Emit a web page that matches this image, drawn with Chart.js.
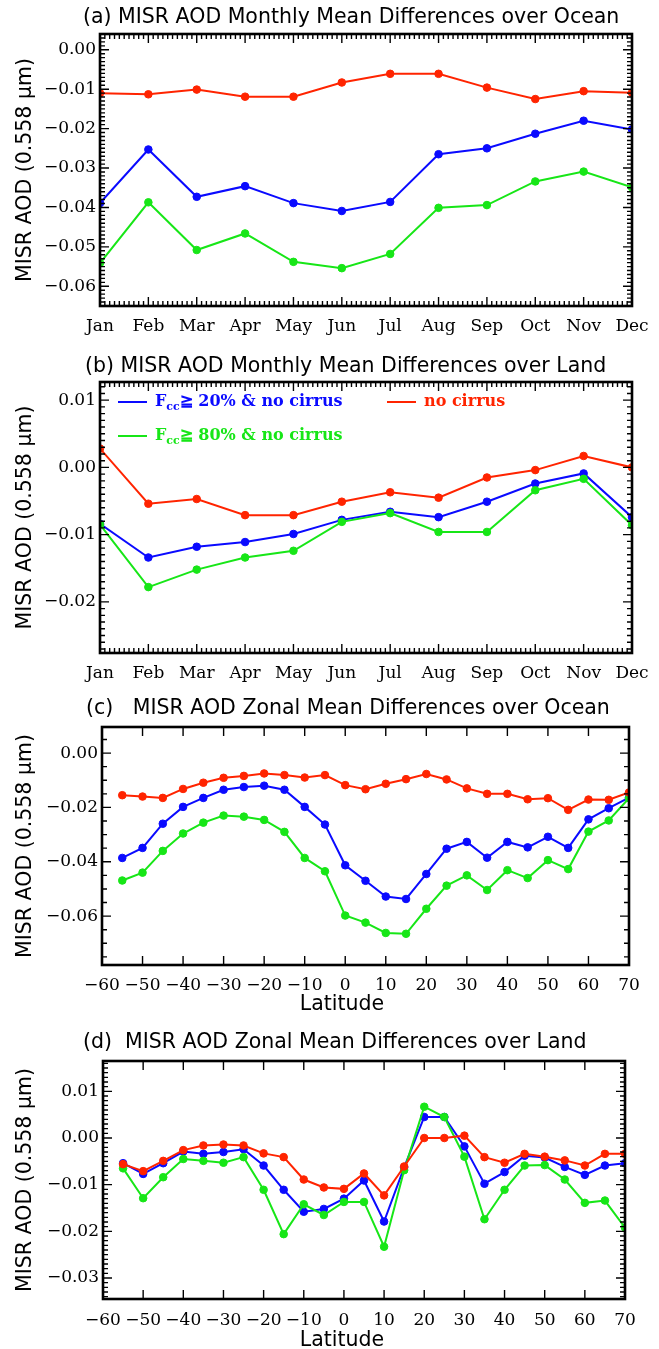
<!DOCTYPE html>
<html>
<head>
<meta charset="utf-8">
<script src="https://cdn.jsdelivr.net/npm/chart.js@4.4.1/dist/chart.umd.min.js"></script>
<style>
  html, body { margin: 0; padding: 0; background: #fff; }
  #wrap { position: relative; width: 659px; height: 1349px; overflow: hidden; }
  canvas { position: absolute; left: 0; }
</style>
</head>
<body>
<div id="wrap">
  <canvas id="chartA" width="659" height="345" style="top:0px"></canvas>
  <canvas id="chartB" width="659" height="345" style="top:345px"></canvas>
  <canvas id="chartC" width="659" height="330" style="top:690px"></canvas>
  <canvas id="chartD" width="659" height="329" style="top:1020px"></canvas>
</div>
<script>
// ---- data ----
const months = ["Jan", "Feb", "Mar", "Apr", "May", "Jun", "Jul", "Aug", "Sep", "Oct", "Nov", "Dec"];
const latitudes = [-55, -50, -45, -40, -35, -30, -25, -20, -15, -10, -5, 0, 5, 10, 15, 20, 25, 30, 35, 40, 45, 50, 55, 60, 65, 70];

// (a) monthly, ocean
const oceanMonthBlue  = [-0.0389, -0.0253, -0.0373, -0.0346, -0.0389, -0.0409, -0.0386, -0.0265, -0.0250, -0.0213, -0.0180, -0.0202];
const oceanMonthGreen = [-0.0541, -0.0387, -0.0508, -0.0466, -0.0538, -0.0554, -0.0518, -0.0401, -0.0394, -0.0334, -0.0309, -0.0349];
const oceanMonthRed   = [-0.0110, -0.0113, -0.0101, -0.0119, -0.0119, -0.0083, -0.0061, -0.0061, -0.0096, -0.0125, -0.0105, -0.0109];

// (b) monthly, land
const landMonthBlue  = [-0.0084, -0.0134, -0.0118, -0.0111, -0.0099, -0.0078, -0.0066, -0.0074, -0.0051, -0.0024, -0.0009, -0.0074];
const landMonthGreen = [-0.0085, -0.0178, -0.0152, -0.0134, -0.0124, -0.0081, -0.0068, -0.0096, -0.0096, -0.0034, -0.0017, -0.0086];
const landMonthRed   = [0.0028, -0.0054, -0.0047, -0.0071, -0.0071, -0.0051, -0.0037, -0.0045, -0.0015, -0.0004, 0.0017, 0.0000];

// (c) zonal, ocean
const oceanZonalBlue  = [-0.0386, -0.0349, -0.0260, -0.0198, -0.0165, -0.0135, -0.0125, -0.0120, -0.0135, -0.0198, -0.0263, -0.0413, -0.0470, -0.0528, -0.0537, -0.0445, -0.0352, -0.0327, -0.0385, -0.0327, -0.0347, -0.0308, -0.0349, -0.0244, -0.0203, -0.0164];
const oceanZonalGreen = [-0.0469, -0.0440, -0.0360, -0.0296, -0.0256, -0.0230, -0.0234, -0.0246, -0.0290, -0.0386, -0.0435, -0.0598, -0.0624, -0.0662, -0.0665, -0.0573, -0.0488, -0.0450, -0.0504, -0.0431, -0.0460, -0.0394, -0.0427, -0.0289, -0.0248, -0.0166];
const oceanZonalRed   = [-0.0155, -0.0160, -0.0165, -0.0132, -0.0109, -0.0091, -0.0084, -0.0075, -0.0081, -0.0090, -0.0081, -0.0118, -0.0133, -0.0113, -0.0096, -0.0077, -0.0097, -0.0130, -0.0150, -0.0150, -0.0170, -0.0166, -0.0209, -0.0171, -0.0172, -0.0145];

// (d) zonal, land
const landZonalBlue  = [-0.0054, -0.0077, -0.0054, -0.0029, -0.0034, -0.0030, -0.0024, -0.0059, -0.0111, -0.0158, -0.0152, -0.0130, -0.0091, -0.0179, -0.0063, 0.0045, 0.0045, -0.0018, -0.0098, -0.0073, -0.0038, -0.0042, -0.0062, -0.0079, -0.0059, -0.0054];
const landZonalGreen = [-0.0065, -0.0129, -0.0084, -0.0045, -0.0049, -0.0053, -0.0041, -0.0111, -0.0206, -0.0142, -0.0165, -0.0137, -0.0137, -0.0233, -0.0069, 0.0067, 0.0045, -0.0040, -0.0174, -0.0111, -0.0059, -0.0058, -0.0089, -0.0139, -0.0134, -0.0192];
const landZonalRed   = [-0.0056, -0.0071, -0.0049, -0.0026, -0.0016, -0.0014, -0.0016, -0.0033, -0.0041, -0.0089, -0.0106, -0.0109, -0.0076, -0.0123, -0.0061, 0.0000, 0.0000, 0.0005, -0.0041, -0.0053, -0.0034, -0.0040, -0.0048, -0.0059, -0.0034, -0.0034];

// tick values
const latTicks = [-60, -50, -40, -30, -20, -10, 0, 10, 20, 30, 40, 50, 60, 70];
const yTicksA = [0, -0.01, -0.02, -0.03, -0.04, -0.05, -0.06];
const yTicksB = [0.01, 0, -0.01, -0.02];
const yTicksC = [0, -0.02, -0.04, -0.06];
const yTicksD = [0.01, 0, -0.01, -0.02, -0.03];

// ---- styling ----
const RED = "#ff2400";
const GREEN = "#17e617";
const BLUE = "#0a0aff";
const SANS = "'DejaVu Sans', sans-serif";
const SERIF = "'DejaVu Serif', serif";
const Y_TITLE = "MISR AOD (0.558 \u00b5m)";

function fmtY(v) {
    return (v < 0 ? "\u2212" : "") + Math.abs(v).toFixed(2);
}
function fmtLat(v) {
    return (v < 0 ? "\u2212" : "") + Math.abs(v);
}

// IDL style frame: box with inward ticks on all four sides
const idlFrame = {
    id: "idlFrame",
    afterDatasetsDraw(chart, args, o) {
        const { ctx, chartArea: a } = chart;
        const xs = chart.scales.x, ys = chart.scales.y;
        ctx.save();
        ctx.strokeStyle = "#000";
        ctx.lineWidth = 1.4;
        ctx.beginPath();
        const vTick = (px, len) => {
            ctx.moveTo(px, a.bottom); ctx.lineTo(px, a.bottom - len);
            ctx.moveTo(px, a.top); ctx.lineTo(px, a.top + len);
        };
        const hTick = (py, len) => {
            ctx.moveTo(a.left, py); ctx.lineTo(a.left + len, py);
            ctx.moveTo(a.right, py); ctx.lineTo(a.right - len, py);
        };
        const xMajor = xs.ticks.map((t, i) => xs.getPixelForTick(i));
        xMajor.forEach(p => vTick(p, o.major));
        if (o.xMinor) {
            for (let i = 0; i < xMajor.length - 1; i++) {
                for (let k = 1; k < o.xMinor; k++) {
                    vTick(xMajor[i] + (xMajor[i + 1] - xMajor[i]) * k / o.xMinor, o.minor);
                }
            }
        }
        const yVals = ys.ticks.map(t => t.value);
        yVals.forEach(v => hTick(ys.getPixelForValue(v), o.major));
        if (o.yMinor) {
            const step = Math.abs(yVals[1] - yVals[0]) / o.yMinor;
            const base = Math.min(...yVals);
            for (let k = -300; k <= 300; k++) {
                const v = base + k * step;
                if (v < ys.min - 1e-9 || v > ys.max + 1e-9 || k % o.yMinor === 0) continue;
                hTick(ys.getPixelForValue(v), o.minor);
            }
        }
        ctx.stroke();
        ctx.lineWidth = 2.6;
        ctx.strokeRect(a.left, a.top, a.right - a.left, a.bottom - a.top);
        ctx.restore();
    }
};

// panel title, x title and legend text
const panelText = {
    id: "panelText",
    afterDraw(chart, args, o) {
        const ctx = chart.ctx;
        ctx.save();
        ctx.fillStyle = "#000";
        ctx.textBaseline = "middle";
        ctx.textAlign = "left";
        ctx.font = "20.5px " + SANS;
        ctx.fillText(o.title, o.titleX, o.titleY);
        if (o.xTitle) {
            ctx.textAlign = "center";
            ctx.fillText(o.xTitle, o.xTitleX, o.xTitleY);
        }
        if (o.legend) {
            ctx.textAlign = "left";
            o.legend.forEach(item => {
                ctx.strokeStyle = item.color;
                ctx.fillStyle = item.color;
                ctx.lineWidth = 2;
                ctx.beginPath();
                ctx.moveTo(item.x, item.y);
                ctx.lineTo(item.x + 29, item.y);
                ctx.stroke();
                let tx = item.x + 37;
                if (item.sub) {
                    ctx.font = "bold 16px " + SERIF;
                    ctx.fillText("F", tx, item.y);
                    tx += ctx.measureText("F").width;
                    ctx.font = "bold 11px " + SERIF;
                    ctx.fillText("cc", tx, item.y + 5);
                    tx += ctx.measureText("cc").width;
                }
                ctx.font = "bold 16px " + SERIF;
                ctx.fillText(item.text, tx, item.y);
            });
        }
        ctx.restore();
    }
};

function series(label, values, color, xs) {
    return {
        label: label,
        data: xs ? xs.map((x, i) => ({ x: x, y: values[i] })) : values,
        borderColor: color,
        backgroundColor: color,
        borderWidth: 2,
        pointRadius: 3.8,
        pointBorderWidth: 1,
        pointBackgroundColor: color,
        pointBorderColor: color,
        tension: 0,
        clip: 0
    };
}

function makePanel(p) {
    const zonal = !!p.xs;
    const tickFont = { family: SERIF, size: 17 };
    const xScale = zonal ? {
        type: "linear",
        min: -60, max: 70,
        afterBuildTicks: s => { s.ticks = latTicks.map(v => ({ value: v })); },
        ticks: { callback: v => fmtLat(v), font: tickFont, color: "#000", padding: p.xPad, autoSkip: false, maxRotation: 0 }
    } : {
        type: "category",
        offset: false,
        ticks: { font: tickFont, color: "#000", padding: p.xPad, autoSkip: false, maxRotation: 0 }
    };
    xScale.grid = { display: false, drawTicks: false };
    xScale.border = { display: false };
    xScale.afterFit = s => { s.height = p.height - p.boxBottom; };

    return new Chart(document.getElementById(p.id), {
        type: "line",
        data: {
            labels: zonal ? p.xs : months,
            datasets: [
                series("no cirrus", p.red, RED, p.xs),
                series("Fcc\u2267 80% & no cirrus", p.green, GREEN, p.xs),
                series("Fcc\u2267 20% & no cirrus", p.blue, BLUE, p.xs)
            ]
        },
        options: {
            responsive: false,
            animation: false,
            events: [],
            layout: { padding: { left: 13, right: 659 - p.boxRight, top: p.boxTop, bottom: 0 } },
            plugins: {
                legend: { display: false },
                tooltip: { enabled: false },
                title: { display: false },
                idlFrame: { major: 9, minor: 5, xMinor: zonal ? 0 : 10, yMinor: p.yMinor },
                panelText: {
                    title: p.title, titleX: p.titleX, titleY: p.titleY,
                    xTitle: zonal ? "Latitude" : null, xTitleX: 342, xTitleY: p.xTitleY,
                    legend: p.legend || null
                }
            },
            scales: {
                x: xScale,
                y: {
                    min: p.yMin, max: p.yMax,
                    afterBuildTicks: s => { s.ticks = p.yTicks.map(v => ({ value: v })); },
                    afterFit: s => { s.width = p.boxLeft - 13; },
                    grid: { display: false, drawTicks: false },
                    border: { display: false },
                    ticks: { callback: v => fmtY(v), font: tickFont, color: "#000", padding: 4 },
                    title: {
                        display: true, text: Y_TITLE, color: "#000",
                        font: { family: SANS, size: 20.5, lineHeight: 1.2 },
                        padding: 0
                    }
                }
            }
        },
        plugins: [idlFrame, panelText]
    });
}

makePanel({
    id: "chartA", height: 345, boxTop: 34, boxBottom: 306, boxLeft: 100, boxRight: 632,
    yMin: -0.065, yMax: 0.004, yTicks: yTicksA, yMinor: 10, xPad: 10,
    blue: oceanMonthBlue, green: oceanMonthGreen, red: oceanMonthRed,
    title: "(a) MISR AOD Monthly Mean Differences over Ocean", titleX: 83, titleY: 18
});

makePanel({
    id: "chartB", height: 345, boxTop: 37, boxBottom: 308, boxLeft: 100, boxRight: 632,
    yMin: -0.0276, yMax: 0.0127, yTicks: yTicksB, yMinor: 10, xPad: 10,
    blue: landMonthBlue, green: landMonthGreen, red: landMonthRed,
    title: "(b) MISR AOD Monthly Mean Differences over Land", titleX: 85, titleY: 22,
    legend: [
        { x: 118, y: 57, color: BLUE, sub: true, text: "\u2267 20% & no cirrus" },
        { x: 118, y: 91, color: GREEN, sub: true, text: "\u2267 80% & no cirrus" },
        { x: 387, y: 57, color: RED, sub: false, text: "no cirrus" }
    ]
});

makePanel({
    id: "chartC", height: 330, boxTop: 37, boxBottom: 275, boxLeft: 102, boxRight: 629,
    xs: latitudes,
    yMin: -0.078, yMax: 0.0096, yTicks: yTicksC, yMinor: 4, xPad: 10,
    blue: oceanZonalBlue, green: oceanZonalGreen, red: oceanZonalRed,
    title: "(c)   MISR AOD Zonal Mean Differences over Ocean", titleX: 86, titleY: 19, xTitleY: 315
});

makePanel({
    id: "chartD", height: 329, boxTop: 41, boxBottom: 279, boxLeft: 103, boxRight: 625,
    xs: latitudes,
    yMin: -0.0345, yMax: 0.0165, yTicks: yTicksD, yMinor: 10, xPad: 11,
    blue: landZonalBlue, green: landZonalGreen, red: landZonalRed,
    title: "(d)  MISR AOD Zonal Mean Differences over Land", titleX: 83, titleY: 23, xTitleY: 321
});
</script>
</body>
</html>
